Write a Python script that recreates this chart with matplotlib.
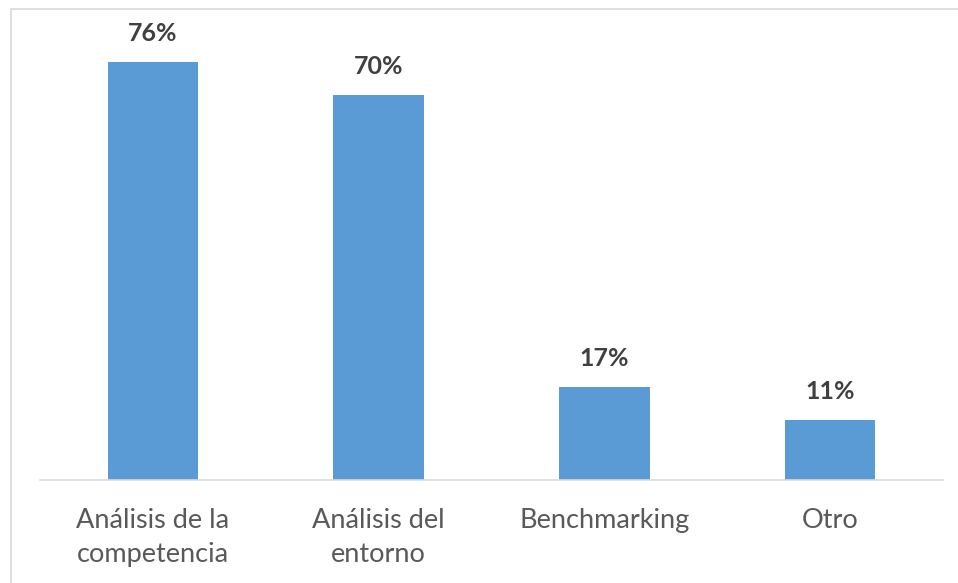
import matplotlib
matplotlib.use("Agg")
import matplotlib.pyplot as plt
from matplotlib.patches import Rectangle

categories = ["Análisis de la\ncompetencia", "Análisis del\nentorno", "Benchmarking", "Otro"]
values = [76, 70, 17, 11]
labels = ["76%", "70%", "17%", "11%"]

W, H = 958, 583
fig = plt.figure(figsize=(W / 100, H / 100), dpi=100)
fig.patch.set_facecolor("white")

# outer chart frame
fig.patches.append(Rectangle((10.5 / W, -0.1), 1.2, 1 - 9.5 / H + 0.1,
                             transform=fig.transFigure, fill=False,
                             edgecolor="#d9d9d9", linewidth=1.2))

left, right, base, top = 40, 943, 480, 40
ax = fig.add_axes([left / W, (H - base) / H, (right - left) / W, (base - top) / H])
x = range(len(values))
bars = ax.bar(x, values, width=0.4, color="#5b9bd5")
ax.set_xlim(-0.5, 3.5)
ax.set_ylim(0, 80)
for s in ["top", "right", "left"]:
    ax.spines[s].set_visible(False)
ax.spines["bottom"].set_color("#d9d9d9")
ax.spines["bottom"].set_linewidth(1.2)
ax.set_yticks([])
ax.set_xticks(list(x))
ax.set_xticklabels(categories, fontsize=19.5, color="#595959", family="Lato",
                   linespacing=1.45)
ax.tick_params(axis="x", length=0, pad=20)
for b, lab in zip(bars, labels):
    ax.annotate(lab, (b.get_x() + b.get_width() / 2, b.get_height()),
                xytext=(0, 12), textcoords="offset points", ha="center", va="bottom",
                fontsize=18, fontweight="bold", color="#404040", family="Lato")

fig.savefig("out.png", dpi=100)
